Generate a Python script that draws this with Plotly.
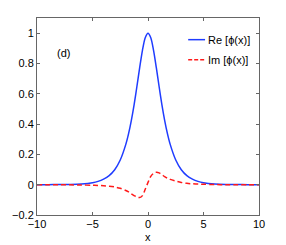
import plotly.graph_objects as go

x_vals = [-10, -9, -8, -7, -6, -5, -4.5, -4, -3.5, -3, -2.5, -2, -1.75, -1.5, -1.25, -1, -0.75, -0.5, -0.25,
          0, 0.25, 0.5, 0.75, 1, 1.25, 1.5, 1.75, 2, 2.5, 3, 3.5, 4, 4.5, 5, 6, 7, 8, 9, 10]
re_vals = [0, 0, 0.001, 0.002, 0.005, 0.013, 0.022, 0.037, 0.060, 0.099, 0.163, 0.266, 0.337, 0.425, 0.529,
           0.648, 0.772, 0.887, 0.970,
           1.0, 0.970, 0.887, 0.772, 0.648, 0.529, 0.425, 0.337, 0.266, 0.163, 0.099, 0.060, 0.037, 0.022,
           0.013, 0.005, 0.002, 0.001, 0, 0]
im_vals = [0, 0, 0, -0.001, -0.002, -0.004, -0.005, -0.007, -0.010, -0.015, -0.024, -0.038, -0.047, -0.060,
           -0.072, -0.082, -0.085, -0.072, -0.030,
           0.015, 0.055, 0.075, 0.082, 0.078, 0.066, 0.053, 0.043, 0.035, 0.024, 0.015, 0.009, 0.006, 0.004,
           0.003, 0.001, 0, 0, 0, 0]

series_names = ["Re [\u03d5(x)]", "Im [\u03d5(x)]"]
x_title = "x"
x_ticks = [-10, -5, 0, 5, 10]
y_ticks = [-0.2, 0, 0.2, 0.4, 0.6, 0.8, 1]
y_labels = ["\u22120.2", "0", "0.2", "0.4", "0.6", "0.8", "1"]
x_labels = ["\u221210", "\u22125", "0", "5", "10"]

BLUE = "#1f3cff"
RED = "#ff1a1a"
FONT = "Liberation Sans, Arial, sans-serif"

fig = go.Figure()
fig.add_trace(go.Scatter(x=x_vals, y=re_vals, mode="lines", name=series_names[0], showlegend=False,
                         line=dict(color=BLUE, width=1.5, shape="spline", smoothing=0.8)))
fig.add_trace(go.Scatter(x=x_vals, y=im_vals, mode="lines", name=series_names[1], showlegend=False,
                         line=dict(color=RED, width=1.5, dash="5px,3px", shape="spline", smoothing=0.9)))

axis_common = dict(showline=True, linecolor="#666666", linewidth=1, mirror="ticks", ticks="inside",
                   ticklen=3, tickcolor="#666666", showgrid=False, zeroline=False, automargin=False,
                   tickfont=dict(family=FONT, size=11, color="#000"))
fig.update_xaxes(range=[-10, 10], tickvals=x_ticks, ticktext=x_labels, ticklabelstandoff=-1, **axis_common)
fig.update_yaxes(range=[-0.2, 1.1], tickvals=y_ticks, ticktext=y_labels, **axis_common)

# x-axis title placed close under the tick labels, as in the reference
fig.add_annotation(x=0.5, y=-0.112, xref="paper", yref="paper", text=x_title, showarrow=False,
                   xanchor="center", yanchor="middle", borderpad=0,
                   font=dict(family=FONT, size=11, color="#000"))

# panel label
fig.add_annotation(x=0.119, y=0.822, xref="paper", yref="paper", text="(d)", showarrow=False,
                   xanchor="center", yanchor="middle",
                   font=dict(family=FONT, size=11, color="#000"))

# manual legend (short line samples as in the reference)
legend_rows = [(0.890, BLUE, "solid"), (0.788, RED, "4px,2px")]
for name, (ly, col, dsh) in zip(series_names, legend_rows):
    fig.add_shape(type="line", xref="paper", yref="paper", x0=0.681, x1=0.757, y0=ly, y1=ly,
                  line=dict(color=col, width=1.5, dash=dsh))
    fig.add_annotation(x=0.760, y=ly, xref="paper", yref="paper", text=name, showarrow=False,
                       xanchor="left", yanchor="middle",
                       font=dict(family=FONT, size=11, color="#000"))

fig.update_layout(
    width=286, height=245,
    margin=dict(l=29, r=35, t=10, b=38),
    paper_bgcolor="white", plot_bgcolor="white",
    showlegend=False,
)

fig.write_html("out.html")
